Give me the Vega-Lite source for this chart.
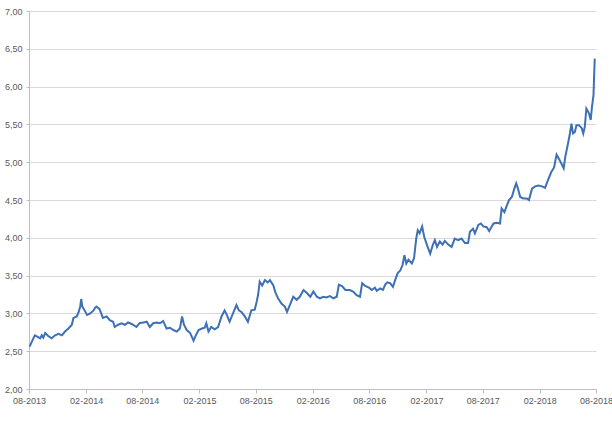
{
  "$schema": "https://vega.github.io/schema/vega-lite/v6.json",
  "width": 567,
  "height": 378,
  "autosize": {"type": "none"},
  "padding": {"left": 29, "top": 11, "right": 16, "bottom": 45},
  "background": "white",
  "config": {"view": {"stroke": null}, "font": "Liberation Sans"},
  "data": {"values": [
    {"d":"2013-08-03","v":2.56},{"d":"2013-08-15","v":2.67},{"d":"2013-08-20","v":2.71},{"d":"2013-08-29","v":2.69},
    {"d":"2013-09-06","v":2.67},{"d":"2013-09-11","v":2.71},{"d":"2013-09-16","v":2.68},{"d":"2013-09-22","v":2.74},
    {"d":"2013-10-02","v":2.70},{"d":"2013-10-13","v":2.67},{"d":"2013-10-24","v":2.71},{"d":"2013-11-04","v":2.73},
    {"d":"2013-11-15","v":2.71},{"d":"2013-11-25","v":2.76},{"d":"2013-12-06","v":2.80},{"d":"2013-12-17","v":2.85},
    {"d":"2013-12-22","v":2.94},{"d":"2014-01-02","v":2.96},{"d":"2014-01-08","v":3.02},{"d":"2014-01-13","v":3.09},
    {"d":"2014-01-16","v":3.19},{"d":"2014-01-20","v":3.09},{"d":"2014-01-27","v":3.04},{"d":"2014-02-04","v":2.98},
    {"d":"2014-02-14","v":3.00},{"d":"2014-02-25","v":3.04},{"d":"2014-03-01","v":3.07},{"d":"2014-03-06","v":3.09},
    {"d":"2014-03-16","v":3.06},{"d":"2014-03-27","v":2.94},{"d":"2014-04-08","v":2.96},{"d":"2014-04-18","v":2.91},
    {"d":"2014-04-29","v":2.89},{"d":"2014-05-04","v":2.82},{"d":"2014-05-15","v":2.85},{"d":"2014-05-26","v":2.87},
    {"d":"2014-06-06","v":2.85},{"d":"2014-06-16","v":2.88},{"d":"2014-06-28","v":2.86},{"d":"2014-07-13","v":2.82},
    {"d":"2014-07-23","v":2.87},{"d":"2014-08-04","v":2.88},{"d":"2014-08-15","v":2.89},{"d":"2014-08-25","v":2.82},
    {"d":"2014-09-05","v":2.87},{"d":"2014-09-16","v":2.88},{"d":"2014-09-27","v":2.87},{"d":"2014-10-07","v":2.90},
    {"d":"2014-10-18","v":2.80},{"d":"2014-10-29","v":2.81},{"d":"2014-11-09","v":2.78},{"d":"2014-11-20","v":2.76},
    {"d":"2014-11-30","v":2.80},{"d":"2014-12-07","v":2.96},{"d":"2014-12-13","v":2.85},{"d":"2014-12-22","v":2.78},
    {"d":"2015-01-02","v":2.74},{"d":"2015-01-13","v":2.64},{"d":"2015-01-18","v":2.69},{"d":"2015-01-29","v":2.78},
    {"d":"2015-02-09","v":2.80},{"d":"2015-02-18","v":2.81},{"d":"2015-02-23","v":2.87},{"d":"2015-03-02","v":2.76},
    {"d":"2015-03-11","v":2.82},{"d":"2015-03-22","v":2.79},{"d":"2015-04-02","v":2.82},{"d":"2015-04-13","v":2.96},
    {"d":"2015-04-23","v":3.04},{"d":"2015-04-30","v":2.98},{"d":"2015-05-09","v":2.89},{"d":"2015-05-20","v":3.00},
    {"d":"2015-05-31","v":3.11},{"d":"2015-06-08","v":3.04},{"d":"2015-06-16","v":3.02},{"d":"2015-06-27","v":2.96},
    {"d":"2015-07-07","v":2.89},{"d":"2015-07-18","v":3.04},{"d":"2015-07-29","v":3.05},{"d":"2015-08-04","v":3.15},
    {"d":"2015-08-09","v":3.25},{"d":"2015-08-14","v":3.42},{"d":"2015-08-22","v":3.37},{"d":"2015-08-31","v":3.44},
    {"d":"2015-09-09","v":3.41},{"d":"2015-09-16","v":3.44},{"d":"2015-09-27","v":3.37},{"d":"2015-10-04","v":3.27},
    {"d":"2015-10-12","v":3.20},{"d":"2015-10-23","v":3.13},{"d":"2015-11-03","v":3.09},{"d":"2015-11-10","v":3.02},
    {"d":"2015-11-19","v":3.11},{"d":"2015-11-30","v":3.22},{"d":"2015-12-11","v":3.18},{"d":"2015-12-21","v":3.22},
    {"d":"2016-01-02","v":3.31},{"d":"2016-01-13","v":3.27},{"d":"2016-01-24","v":3.22},{"d":"2016-02-03","v":3.29},
    {"d":"2016-02-14","v":3.22},{"d":"2016-02-24","v":3.20},{"d":"2016-03-05","v":3.22},{"d":"2016-03-16","v":3.21},
    {"d":"2016-03-27","v":3.23},{"d":"2016-04-07","v":3.20},{"d":"2016-04-18","v":3.22},{"d":"2016-04-25","v":3.38},
    {"d":"2016-05-05","v":3.36},{"d":"2016-05-16","v":3.31},{"d":"2016-05-30","v":3.31},{"d":"2016-06-10","v":3.29},
    {"d":"2016-06-21","v":3.24},{"d":"2016-07-02","v":3.22},{"d":"2016-07-09","v":3.40},{"d":"2016-07-20","v":3.36},
    {"d":"2016-07-31","v":3.34},{"d":"2016-08-09","v":3.31},{"d":"2016-08-19","v":3.34},{"d":"2016-08-25","v":3.30},
    {"d":"2016-09-05","v":3.33},{"d":"2016-09-14","v":3.31},{"d":"2016-09-21","v":3.38},{"d":"2016-09-28","v":3.41},
    {"d":"2016-10-07","v":3.40},{"d":"2016-10-16","v":3.35},{"d":"2016-10-23","v":3.44},{"d":"2016-10-31","v":3.53},
    {"d":"2016-11-09","v":3.57},{"d":"2016-11-16","v":3.64},{"d":"2016-11-22","v":3.77},{"d":"2016-11-28","v":3.66},
    {"d":"2016-12-05","v":3.71},{"d":"2016-12-16","v":3.66},{"d":"2016-12-23","v":3.73},{"d":"2016-12-30","v":3.99},
    {"d":"2017-01-04","v":4.10},{"d":"2017-01-10","v":4.06},{"d":"2017-01-18","v":4.15},{"d":"2017-01-25","v":4.01},
    {"d":"2017-02-03","v":3.90},{"d":"2017-02-13","v":3.79},{"d":"2017-02-21","v":3.90},{"d":"2017-02-28","v":3.97},
    {"d":"2017-03-07","v":3.88},{"d":"2017-03-16","v":3.95},{"d":"2017-03-25","v":3.91},{"d":"2017-04-01","v":3.96},
    {"d":"2017-04-12","v":3.91},{"d":"2017-04-23","v":3.88},{"d":"2017-05-03","v":3.99},{"d":"2017-05-14","v":3.97},
    {"d":"2017-05-25","v":3.99},{"d":"2017-06-05","v":3.93},{"d":"2017-06-15","v":3.93},{"d":"2017-06-21","v":4.08},
    {"d":"2017-07-01","v":4.12},{"d":"2017-07-07","v":4.06},{"d":"2017-07-18","v":4.17},{"d":"2017-07-26","v":4.19},
    {"d":"2017-08-03","v":4.15},{"d":"2017-08-14","v":4.14},{"d":"2017-08-22","v":4.09},{"d":"2017-08-26","v":4.12},
    {"d":"2017-09-05","v":4.19},{"d":"2017-09-16","v":4.20},{"d":"2017-09-26","v":4.19},{"d":"2017-10-01","v":4.39},
    {"d":"2017-10-10","v":4.34},{"d":"2017-10-18","v":4.43},{"d":"2017-10-25","v":4.50},{"d":"2017-11-03","v":4.54},
    {"d":"2017-11-11","v":4.65},{"d":"2017-11-17","v":4.72},{"d":"2017-11-22","v":4.66},{"d":"2017-11-30","v":4.54},
    {"d":"2017-12-10","v":4.52},{"d":"2017-12-21","v":4.52},{"d":"2017-12-28","v":4.50},{"d":"2018-01-07","v":4.65},
    {"d":"2018-01-17","v":4.68},{"d":"2018-01-28","v":4.69},{"d":"2018-02-08","v":4.68},{"d":"2018-02-18","v":4.66},
    {"d":"2018-02-27","v":4.76},{"d":"2018-03-10","v":4.87},{"d":"2018-03-19","v":4.93},{"d":"2018-03-27","v":5.10},
    {"d":"2018-04-03","v":5.05},{"d":"2018-04-12","v":4.98},{"d":"2018-04-19","v":4.92},{"d":"2018-04-24","v":5.07},
    {"d":"2018-05-03","v":5.25},{"d":"2018-05-09","v":5.38},{"d":"2018-05-14","v":5.51},{"d":"2018-05-19","v":5.38},
    {"d":"2018-05-25","v":5.40},{"d":"2018-05-30","v":5.49},{"d":"2018-06-07","v":5.49},{"d":"2018-06-16","v":5.45},
    {"d":"2018-06-21","v":5.38},{"d":"2018-06-26","v":5.47},{"d":"2018-07-01","v":5.71},{"d":"2018-07-09","v":5.65},
    {"d":"2018-07-15","v":5.56},{"d":"2018-07-19","v":5.73},{"d":"2018-07-24","v":5.89},{"d":"2018-07-26","v":6.15},
    {"d":"2018-07-28","v":6.37}
  ]},
  "mark": {"type": "line", "color": "#3E70B5", "strokeWidth": 2, "interpolate": "linear"},
  "encoding": {
    "x": {
      "field": "d", "type": "temporal", "title": null,
      "scale": {"type": "utc", "domain": [{"year":2013,"month":8,"date":1,"utc":true},{"year":2018,"month":8,"date":1,"utc":true}]},
      "axis": {
        "values": [
          {"year":2013,"month":8,"date":1,"utc":true},{"year":2014,"month":2,"date":1,"utc":true},
          {"year":2014,"month":8,"date":1,"utc":true},{"year":2015,"month":2,"date":1,"utc":true},
          {"year":2015,"month":8,"date":1,"utc":true},{"year":2016,"month":2,"date":1,"utc":true},
          {"year":2016,"month":8,"date":1,"utc":true},{"year":2017,"month":2,"date":1,"utc":true},
          {"year":2017,"month":8,"date":1,"utc":true},{"year":2018,"month":2,"date":1,"utc":true},
          {"year":2018,"month":8,"date":1,"utc":true}
        ],
        "labelExpr": "utcFormat(datum.value, '%m-%Y')",
        "grid": false, "domainColor": "#BFBFBF", "tickColor": "#BFBFBF", "tickSize": 4,
        "labelFontSize": 9, "labelColor": "#595959", "labelPadding": 3, "labelFlush": false, "labelOverlap": false
      }
    },
    "y": {
      "field": "v", "type": "quantitative", "title": null,
      "scale": {"domain": [2, 7], "nice": false, "zero": false},
      "axis": {
        "values": [2, 2.5, 3, 3.5, 4, 4.5, 5, 5.5, 6, 6.5, 7],
        "labelExpr": "replace(format(datum.value, '.2f'), '.', ',')",
        "grid": true, "gridColor": "#D9D9D9", "gridWidth": 1,
        "domainColor": "#BFBFBF", "tickColor": "#BFBFBF", "tickSize": 3,
        "labelFontSize": 9, "labelColor": "#595959", "labelPadding": 4
      }
    }
  }
}
